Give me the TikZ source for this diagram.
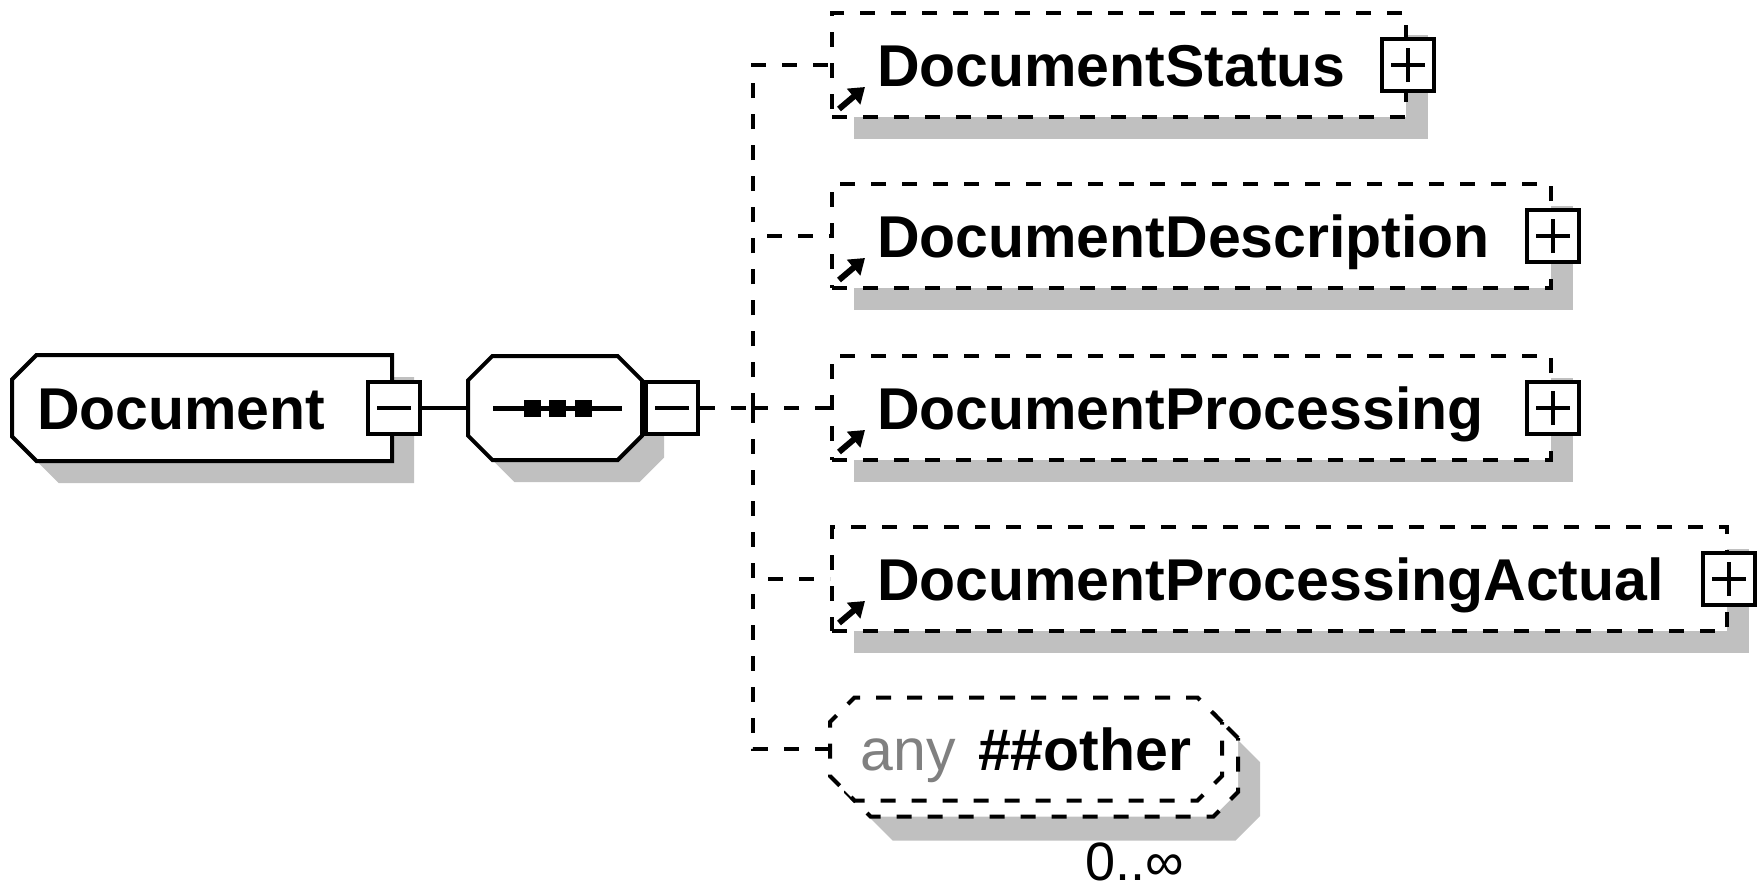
\documentclass[tikz,border=0pt]{standalone}
\usepackage{fontspec}
\setmainfont{Liberation Sans}
\usetikzlibrary{shapes.misc,shadows,arrows.meta}
\definecolor{shadowgray}{HTML}{C0C0C0}
\definecolor{anygray}{HTML}{808080}
\tikzset{
  dashline/.style={dash pattern=on 15pt off 16pt},
  elem/.style={font=\fontsize{59}{62}\selectfont\bfseries, line width=4pt, fill=white,
    text height=42pt, text depth=0pt, inner ysep=0pt,
    general shadow={fill=shadowgray, shadow xshift=22pt, shadow yshift=-22pt}},
  refbox/.style={elem, rectangle, draw, dashline, anchor=west, minimum height=104pt,
    inner xsep=45pt, align=left},
  minusbox/.style={draw, solid, line width=4pt, fill=white, minimum size=52pt, inner sep=0pt,
    path picture={\draw[line width=4pt] ([xshift=-17pt]path picture bounding box.center)
      -- ([xshift=17pt]path picture bounding box.center);}},
  plusbox/.style={draw, solid, line width=4pt, fill=white, minimum size=52pt, inner sep=0pt,
    path picture={\draw[line width=4pt] ([xshift=-17pt]path picture bounding box.center)
      -- ([xshift=17pt]path picture bounding box.center)
      ([yshift=-17pt]path picture bounding box.center)
      -- ([yshift=17pt]path picture bounding box.center);}},
  reflink/.style={line width=6pt, -{Triangle[length=15pt,width=20pt]}}
}
\begin{document}
\begin{tikzpicture}[x=1pt, y=-1pt, line width=4pt]
  \useasboundingbox (0,0) rectangle (1764,894);
  % root element and sequence
  \node[elem, draw, chamfered rectangle, chamfered rectangle corners={north west,south west},
    chamfered rectangle xsep=24pt, minimum width=380pt, minimum height=106pt,
    text width=330pt, inner xsep=0pt, align=left] (doc) at (202,408) {Document};
  \node[minusbox] (dm) at (doc.east) {};
  \node[elem, draw, chamfered rectangle, chamfered rectangle xsep=24pt,
    minimum width=174pt, minimum height=104pt] (seq) at (555,408) {};
  \node[minusbox, anchor=west] (sm) at (seq.east) {};
  \draw[line width=5pt] ([xshift=-62pt]seq.center) -- ([xshift=67pt]seq.center);
  \foreach \dx in {-23,2,28}
    \fill ([xshift=\dx pt]seq.center) +(-8.5,-8.5) rectangle +(8.5,8.5);
  \draw (dm.east) -- (seq.west);
  % children
  \node[refbox, minimum width=574pt, text width=484pt] (status) at (830,65) {DocumentStatus};
  \node[refbox, minimum width=719pt, text width=629pt] (descr) at (830,236) {DocumentDescription};
  \node[refbox, minimum width=719pt, text width=629pt] (proc) at (830,408) {DocumentProcessing};
  \node[refbox, minimum width=895pt, text width=805pt] (actual) at (830,579) {DocumentProcessingActual};
  \foreach \c in {status,descr,proc,actual} {
    \node[plusbox] (\c x) at (\c.east) {};
    \draw[reflink] ([shift={(9,-10)}]\c.south west) -- ++(26,-22);
  }
  % wildcard with 0..unbounded
  \node[font=\fontsize{59}{62}\selectfont, line width=4pt, fill=white, draw, dashline,
    chamfered rectangle, chamfered rectangle xsep=30pt, minimum width=392pt, minimum height=103pt,
    text height=42pt, text depth=0pt, inner ysep=0pt,
    general shadow={fill=shadowgray, shadow xshift=38pt, shadow yshift=-40pt},
    general shadow={fill=white, draw, dashline, line width=4pt, shadow xshift=16pt, shadow yshift=-16pt}]
    (any) at (1026,749) {{\color{anygray}any}\hspace{22pt}\textbf{\#\#other}};
  \node[font=\fontsize{54}{58}\selectfont, inner sep=0pt] (mult) at (1135,862) {0..∞};
  % dashed connectors
  \coordinate (split) at (753,408);
  \draw[dashline] (sm.east) -- (split);
  \foreach \c in {status,descr,proc,actual,any}
    \draw[dashline] (split) |- (\c.west);
\end{tikzpicture}
\end{document}
